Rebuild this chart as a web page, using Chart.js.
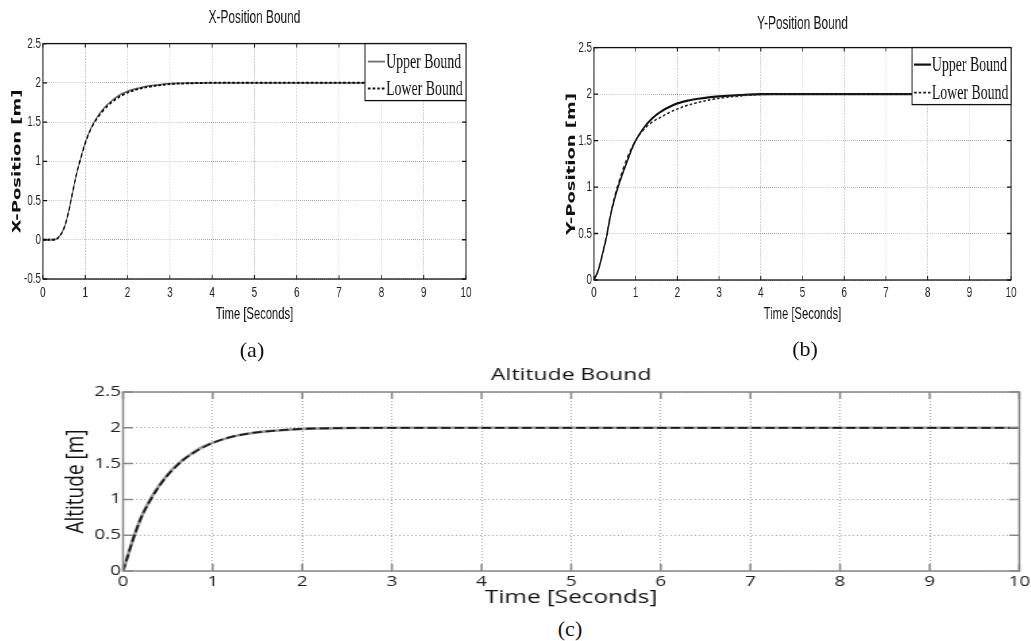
<!DOCTYPE html>
<html>
<head>
<meta charset="utf-8">
<title>Position and altitude bounds</title>
<script src="https://cdn.jsdelivr.net/npm/chart.js@4.4.1/dist/chart.umd.min.js"></script>
<style>
  html, body { margin: 0; padding: 0; background: #fff; }
  body { width: 1031px; height: 641px; position: relative; overflow: hidden; }
  canvas { position: absolute; transform-origin: 0 0; }
  .cap {
    position: absolute; transform: translate(-50%, -50%);
    font-family: 'Liberation Serif', 'Times New Roman', serif; font-size: 22px; color: #111;
    white-space: nowrap;
  }
</style>
</head>
<body>
<canvas id="chartX" width="727" height="330" style="left:0;top:0;transform:scaleX(0.66)"></canvas>
<canvas id="chartY" width="774" height="330" style="left:520px;top:0;transform:scaleX(0.66)"></canvas>
<canvas id="chartZ" width="736" height="261" style="left:40px;top:355px;transform:scaleX(1.35)"></canvas>
<div class="cap" style="left:252px;top:350px">(a)</div>
<div class="cap" style="left:805px;top:349px">(b)</div>
<div class="cap" style="left:570px;top:629px">(c)</div>
<script>
// Time axis (shared)
const xTicks = [0, 1, 2, 3, 4, 5, 6, 7, 8, 9, 10];
const xTickLabels = ['0', '1', '2', '3', '4', '5', '6', '7', '8', '9', '10'];

// X-position bound
const tX = [0, 0.1, 0.2, 0.3, 0.4, 0.5, 0.6, 0.7, 0.8, 0.9, 1.0, 1.1, 1.2, 1.3, 1.4, 1.5, 1.6, 1.8, 2.0, 2.25, 2.5, 2.75, 3.0, 3.5, 4, 5, 6, 7, 8, 9, 10];
const xUpper = [0, 0, 0, 0.005, 0.05, 0.15, 0.34, 0.6, 0.85, 1.05, 1.24, 1.38, 1.49, 1.58, 1.65, 1.71, 1.76, 1.84, 1.89, 1.93, 1.96, 1.975, 1.99, 1.998, 2, 2, 2, 2, 2, 2, 2];
const xLower = [0, 0, 0, 0.005, 0.05, 0.15, 0.34, 0.6, 0.85, 1.05, 1.23, 1.37, 1.48, 1.56, 1.63, 1.69, 1.74, 1.82, 1.875, 1.92, 1.95, 1.97, 1.985, 1.995, 2, 2, 2, 2, 2, 2, 2];
const yTicksX = [-0.5, 0, 0.5, 1, 1.5, 2, 2.5];
const yTickLabelsX = ['-0.5', '0', '0.5', '1', '1.5', '2', '2.5'];

// Y-position bound
const tY = [0, 0.1, 0.2, 0.3, 0.4, 0.5, 0.6, 0.7, 0.8, 0.9, 1.0, 1.2, 1.4, 1.6, 1.8, 2.0, 2.25, 2.5, 2.75, 3.0, 3.5, 4, 5, 6, 7, 8, 9, 10];
const yUpper = [0, 0.1, 0.27, 0.46, 0.7, 0.88, 1.03, 1.16, 1.28, 1.4, 1.5, 1.64, 1.74, 1.81, 1.86, 1.9, 1.93, 1.95, 1.965, 1.975, 1.99, 2, 2, 2, 2, 2, 2, 2];
const yLower = [0, 0.1, 0.28, 0.48, 0.72, 0.91, 1.06, 1.2, 1.32, 1.42, 1.5, 1.62, 1.7, 1.75, 1.8, 1.84, 1.88, 1.91, 1.935, 1.955, 1.98, 1.995, 2, 2, 2, 2, 2, 2];
const yTicksY = [0, 0.5, 1, 1.5, 2, 2.5];
const yTickLabelsY = ['0', '0.5', '1', '1.5', '2', '2.5'];

// Altitude bound
const tZ = [0, 0.05, 0.1, 0.15, 0.2, 0.3, 0.4, 0.5, 0.6, 0.7, 0.8, 0.9, 1.0, 1.2, 1.4, 1.6, 1.8, 2.0, 2.5, 3, 4, 5, 6, 7, 8, 9, 10];
const zUpper = [0, 0.2, 0.4, 0.58, 0.74, 0.99, 1.19, 1.35, 1.48, 1.58, 1.67, 1.74, 1.79, 1.87, 1.92, 1.95, 1.97, 1.985, 1.997, 2, 2, 2, 2, 2, 2, 2, 2];
const zLower = [0, 0.2, 0.4, 0.58, 0.74, 0.98, 1.18, 1.34, 1.47, 1.58, 1.66, 1.73, 1.79, 1.87, 1.92, 1.95, 1.97, 1.985, 1.997, 2, 2, 2, 2, 2, 2, 2, 2];
const yTicksZ = [0, 0.5, 1, 1.5, 2, 2.5];
const yTickLabelsZ = ['0', '0.5', '1', '1.5', '2', '2.5'];

const toPoints = (ts, vs) => ts.map((t, i) => ({ x: t, y: vs[i] }));

// Box around the axes, inward ticks on all four sides, optional legend box
const axesBox = {
  id: 'axesBox',
  afterDatasetsDraw(chart, args, opts) {
    const { ctx, chartArea: a, scales: { x, y } } = chart;
    ctx.save();
    ctx.strokeStyle = opts.color;
    ctx.lineWidth = opts.width;
    ctx.setLineDash([]);
    ctx.beginPath();
    x.ticks.forEach(t => {
      const px = x.getPixelForValue(t.value);
      ctx.moveTo(px, a.bottom); ctx.lineTo(px, a.bottom - opts.tickX);
      ctx.moveTo(px, a.top); ctx.lineTo(px, a.top + opts.tickX);
    });
    y.ticks.forEach(t => {
      const py = y.getPixelForValue(t.value);
      ctx.moveTo(a.left, py); ctx.lineTo(a.left + opts.tickY, py);
      ctx.moveTo(a.right, py); ctx.lineTo(a.right - opts.tickY, py);
    });
    ctx.stroke();
    ctx.strokeRect(a.left, a.top, a.right - a.left, a.bottom - a.top);

    const lg = opts.legend;
    if (lg) {
      const bx = a.right - lg.w, by = a.top;
      ctx.fillStyle = '#fff';
      ctx.fillRect(bx, by, lg.w, lg.h);
      ctx.strokeRect(bx, by, lg.w, lg.h);
      ctx.font = lg.font;
      ctx.textBaseline = 'middle';
      ctx.textAlign = 'left';
      chart.data.datasets.forEach((ds, i) => {
        const ry = by + lg.rows[i];
        ctx.strokeStyle = ds.borderColor;
        ctx.lineWidth = ds.borderWidth;
        ctx.setLineDash(ds.borderDash || []);
        ctx.beginPath();
        ctx.moveTo(bx + lg.x0, ry);
        ctx.lineTo(bx + lg.x1, ry);
        ctx.stroke();
        ctx.fillStyle = '#111';
        ctx.fillText(ds.label, bx + lg.tx, ry + 1);
      });
    }
    ctx.restore();
  }
};

function makePanel(id, p) {
  return new Chart(document.getElementById(id), {
    type: 'line',
    data: { datasets: p.datasets },
    plugins: [axesBox],
    options: {
      responsive: false,
      animation: false,
      events: [],
      layout: { padding: { left: 0, right: p.padR, top: 0, bottom: p.padB } },
      elements: { point: { radius: 0 }, line: { cubicInterpolationMode: 'monotone' } },
      scales: {
        x: {
          type: 'linear', min: 0, max: 10,
          afterBuildTicks: s => { s.ticks = xTicks.map(v => ({ value: v })); },
          afterFit: s => { s.height = p.xAxisH; },
          ticks: {
            callback: (v, i) => xTickLabels[i],
            font: p.tickFont, color: '#222', padding: p.xTickPad,
            maxRotation: 0, autoSkip: false
          },
          grid: { color: p.gridColor, lineWidth: 1, drawTicks: false },
          border: { display: false, dash: [1, 2] },
          title: {
            display: true, text: 'Time [Seconds]', color: '#111',
            font: p.xTitleFont, padding: { top: 0, bottom: p.xTitlePad }
          }
        },
        y: {
          type: 'linear', min: p.yTicks[0], max: p.yTicks[p.yTicks.length - 1],
          afterBuildTicks: s => { s.ticks = p.yTicks.map(v => ({ value: v })); },
          afterFit: s => { s.width = p.yAxisW; },
          ticks: {
            callback: (v, i) => p.yTickLabels[i],
            font: p.tickFont, color: '#222', padding: p.yTickPad, autoSkip: false
          },
          grid: { color: p.gridColor, lineWidth: 1, drawTicks: false },
          border: { display: false, dash: [1, 2] },
          title: {
            display: true, text: p.yTitle, color: '#111',
            font: p.yTitleFont, padding: { top: p.yTitlePad, bottom: 0 }
          }
        }
      },
      plugins: {
        legend: { display: false },
        tooltip: { enabled: false },
        title: {
          display: true, text: p.title, fullSize: false, color: '#111',
          font: p.titleFont, padding: { top: p.titlePad[0], bottom: p.titlePad[1] }
        },
        axesBox: { color: p.frameColor, width: p.frameWidth, tickX: p.tickLen[0], tickY: p.tickLen[1], legend: p.legend }
      }
    }
  });
}

const sansTop = "'Liberation Sans', Arial, sans-serif";
const serifLegend = "21px 'Liberation Serif', 'Times New Roman', serif";

// lower bound has order 0 so the dashed line sits on top of the solid one
makePanel('chartX', {
  title: 'X-Position Bound',
  yTitle: 'X-Position [m]',
  yTicks: yTicksX, yTickLabels: yTickLabelsX,
  datasets: [
    { label: 'Upper Bound', data: toPoints(tX, xUpper), borderColor: '#6e6e6e', borderWidth: 1.8, order: 1 },
    { label: 'Lower Bound', data: toPoints(tX, xLower), borderColor: '#111', borderWidth: 2, borderDash: [4, 3], order: 0 }
  ],
  padR: 21, padB: 5, xAxisH: 46, yAxisW: 65,
  tickFont: { family: sansTop, size: 15 }, xTickPad: 5, yTickPad: 3,
  titleFont: { family: sansTop, size: 18, weight: 'normal' }, titlePad: [7, 15],
  xTitleFont: { family: sansTop, size: 17 }, xTitlePad: 0,
  yTitleFont: { family: "'DejaVu Sans', sans-serif", size: 18, weight: 'bold' }, yTitlePad: 16,
  gridColor: '#9a9a9a', frameColor: '#111', frameWidth: 1.3, tickLen: [4, 6],
  legend: { w: 153, h: 57, rows: [18, 45], x0: 4.5, x1: 30, tx: 32, font: serifLegend }
});

makePanel('chartY', {
  title: 'Y-Position Bound',
  yTitle: 'Y-Position [m]',
  yTicks: yTicksY, yTickLabels: yTickLabelsY,
  datasets: [
    { label: 'Upper Bound', data: toPoints(tY, yUpper), borderColor: '#111', borderWidth: 2.2, order: 1 },
    { label: 'Lower Bound', data: toPoints(tY, yLower), borderColor: '#222', borderWidth: 1.6, borderDash: [4, 3], order: 0 }
  ],
  padR: 30, padB: 5, xAxisH: 45, yAxisW: 112,
  tickFont: { family: sansTop, size: 15 }, xTickPad: 4, yTickPad: 3,
  titleFont: { family: sansTop, size: 18, weight: 'normal' }, titlePad: [13, 13],
  xTitleFont: { family: sansTop, size: 17 }, xTitlePad: 0,
  yTitleFont: { family: "'DejaVu Sans', sans-serif", size: 18, weight: 'bold' }, yTitlePad: 68,
  gridColor: '#9a9a9a', frameColor: '#111', frameWidth: 1.3, tickLen: [4, 6],
  legend: { w: 150, h: 57, rows: [17, 45], x0: 3, x1: 29, tx: 30, font: serifLegend }
});

makePanel('chartZ', {
  title: 'Altitude Bound',
  yTitle: 'Altitude [m]',
  yTicks: yTicksZ, yTickLabels: yTickLabelsZ,
  datasets: [
    { label: 'Upper Bound', data: toPoints(tZ, zUpper), borderColor: '#9a9a9a', borderWidth: 2.6, order: 1 },
    { label: 'Lower Bound', data: toPoints(tZ, zLower), borderColor: '#1a1a1a', borderWidth: 1.8, borderDash: [7, 3], order: 0 }
  ],
  padR: 10, padB: 6, xAxisH: 39, yAxisW: 61.5,
  tickFont: { family: "'Open Sans', sans-serif", size: 14 }, xTickPad: 2.6, yTickPad: 1.5,
  titleFont: { family: "'Open Sans', sans-serif", size: 17, weight: 'normal' }, titlePad: [9.8, 6.8],
  xTitleFont: { family: "'Open Sans', sans-serif", size: 18 }, xTitlePad: 1.2,
  yTitleFont: { family: "'Open Sans', sans-serif", size: 19 }, yTitlePad: 15,
  gridColor: '#a8a8a8', frameColor: '#888', frameWidth: 1.5, tickLen: [7, 7.4],
  legend: null
});
</script>
</body>
</html>
